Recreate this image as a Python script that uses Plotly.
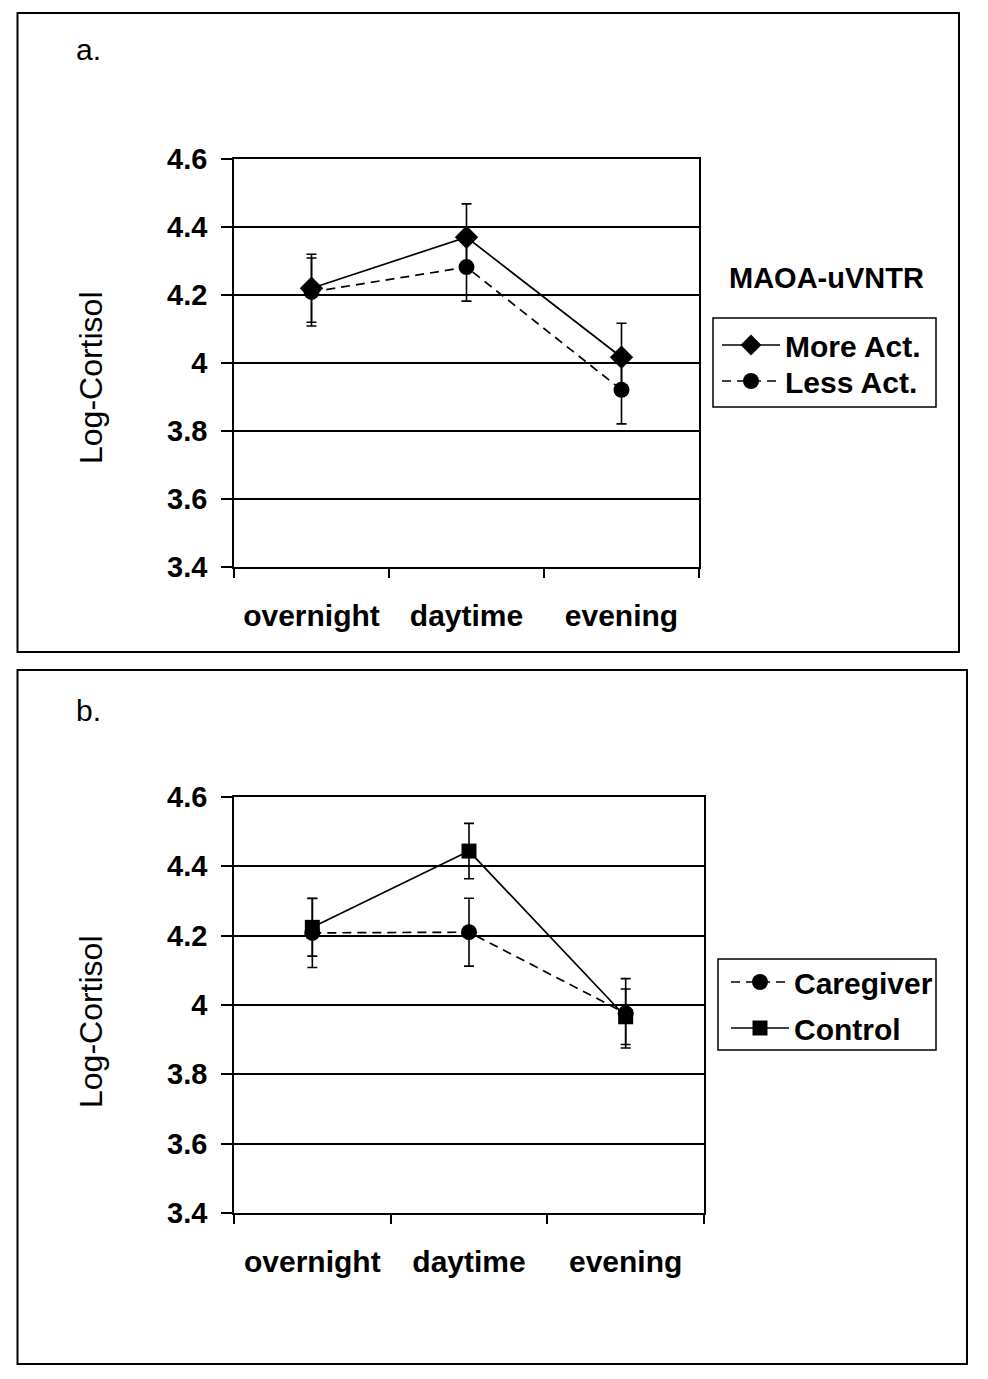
import plotly.graph_objects as go

# ---- data ----
categories = ["overnight", "daytime", "evening"]
y_ticks = [3.4, 3.6, 3.8, 4.0, 4.2, 4.4, 4.6]
y_ticktext = ["3.4", "3.6", "3.8", "4", "4.2", "4.4", "4.6"]

more_act = [4.22, 4.37, 4.017]
more_act_err = [0.10, 0.098, 0.10]
less_act = [4.209, 4.282, 3.921]
less_act_err = [0.10, 0.10, 0.10]

caregiver = [4.208, 4.21, 3.976]
caregiver_err = [0.10, 0.098, 0.10]
control = [4.224, 4.444, 3.966]
control_err = [0.083, 0.08, 0.08]

W, H = 988, 1379
FONT = "Liberation Sans"
OFF = 8  # page body margin


def px(x):
    return (x - OFF) / W


def py(y):
    return 1 - (y - OFF) / H


fig = go.Figure()


def add_series(name, y, err, symbol, msize, dash, xa, ya, legend):
    fig.add_trace(go.Scatter(
        x=categories, y=y, name=name, mode="lines+markers",
        line=dict(color="black", width=1.7, dash=dash),
        marker=dict(symbol=symbol, size=msize, color="black"),
        error_y=dict(type="data", array=err, visible=True, color="black",
                     thickness=1.6, width=5),
        xaxis=xa, yaxis=ya, legend=legend,
    ))


add_series("More Act.", more_act, more_act_err, "diamond", 18, "solid", "x", "y", "legend")
add_series("Less Act.", less_act, less_act_err, "circle", 16, "9px,6px", "x", "y", "legend2")
add_series("Caregiver", caregiver, caregiver_err, "circle", 16, "9px,6px", "x2", "y2", "legend3")
add_series("Control", control, control_err, "square", 15, "solid", "x2", "y2", "legend4")

xaxis_common = dict(
    type="category", tickson="boundaries", ticks="outside", ticklen=9,
    tickwidth=1.5, tickcolor="black", showline=True, linecolor="black",
    linewidth=1.5, mirror=True, showgrid=False, zeroline=False,
    tickfont=dict(family=FONT, size=30, color="black", weight="bold"),
    ticklabelstandoff=21, range=[-0.5, 2.5], fixedrange=True,
)
yaxis_common = dict(
    range=[3.4, 4.6], tickvals=y_ticks, ticktext=y_ticktext,
    ticks="outside", ticklen=11, tickwidth=1.5, tickcolor="black",
    showline=True, linecolor="black", linewidth=1.5, mirror=True,
    showgrid=True, gridcolor="black", gridwidth=1.5, zeroline=False,
    tickfont=dict(family=FONT, size=29, color="black", weight="bold"),
    ticklabelstandoff=8,
)

legend_font = dict(family=FONT, size=30, color="black", weight="bold")


def leg(xl, yc):
    return dict(x=px(xl), y=py(yc), xanchor="left", yanchor="middle",
                bgcolor="rgba(0,0,0,0)", borderwidth=0, font=legend_font,
                itemwidth=58)


fig.update_layout(
    width=W, height=H,
    margin=dict(l=0, r=0, t=0, b=0, autoexpand=False),
    paper_bgcolor="white", plot_bgcolor="white",
    font=dict(family=FONT, color="black"),
    xaxis=dict(domain=[px(234), px(699)], anchor="y", **xaxis_common),
    yaxis=dict(domain=[py(567), py(159)], anchor="x", **yaxis_common),
    xaxis2=dict(domain=[px(234), px(704)], anchor="y2", **xaxis_common),
    yaxis2=dict(domain=[py(1213), py(797)], anchor="x2", **yaxis_common),
    legend=leg(717, 345),
    legend2=leg(717, 381),
    legend3=leg(726, 982),
    legend4=leg(726, 1028),
    showlegend=True,
)

# panel borders
fig.add_shape(type="rect", xref="paper", yref="paper",
              x0=px(17.5), x1=px(959), y0=py(652), y1=py(13),
              line=dict(color="black", width=2))
fig.add_shape(type="rect", xref="paper", yref="paper",
              x0=px(17.5), x1=px(967), y0=py(1364), y1=py(670),
              line=dict(color="black", width=2))
# legend boxes
fig.add_shape(type="rect", xref="paper", yref="paper",
              x0=px(713), x1=px(936), y0=py(407), y1=py(318),
              line=dict(color="black", width=1.5))
fig.add_shape(type="rect", xref="paper", yref="paper",
              x0=px(718), x1=px(936), y0=py(1050), y1=py(959),
              line=dict(color="black", width=1.5))

# annotations
ann = [
    dict(text="a.", x=px(74), y=py(50), xanchor="left", yanchor="middle",
         font=dict(family=FONT, size=30, color="black")),
    dict(text="b.", x=px(74), y=py(710), xanchor="left", yanchor="middle",
         font=dict(family=FONT, size=30, color="black")),
    dict(text="Log-Cortisol", x=px(91), y=py(378), textangle=-90,
         xanchor="center", yanchor="middle",
         font=dict(family=FONT, size=32, color="black")),
    dict(text="Log-Cortisol", x=px(91), y=py(1022), textangle=-90,
         xanchor="center", yanchor="middle",
         font=dict(family=FONT, size=32, color="black")),
    dict(text="MAOA-uVNTR", x=px(826), y=py(278), xanchor="center",
         yanchor="middle",
         font=dict(family=FONT, size=29, color="black", weight="bold")),
]
for a in ann:
    fig.add_annotation(xref="paper", yref="paper", showarrow=False, **a)

fig.write_html("out.html")
